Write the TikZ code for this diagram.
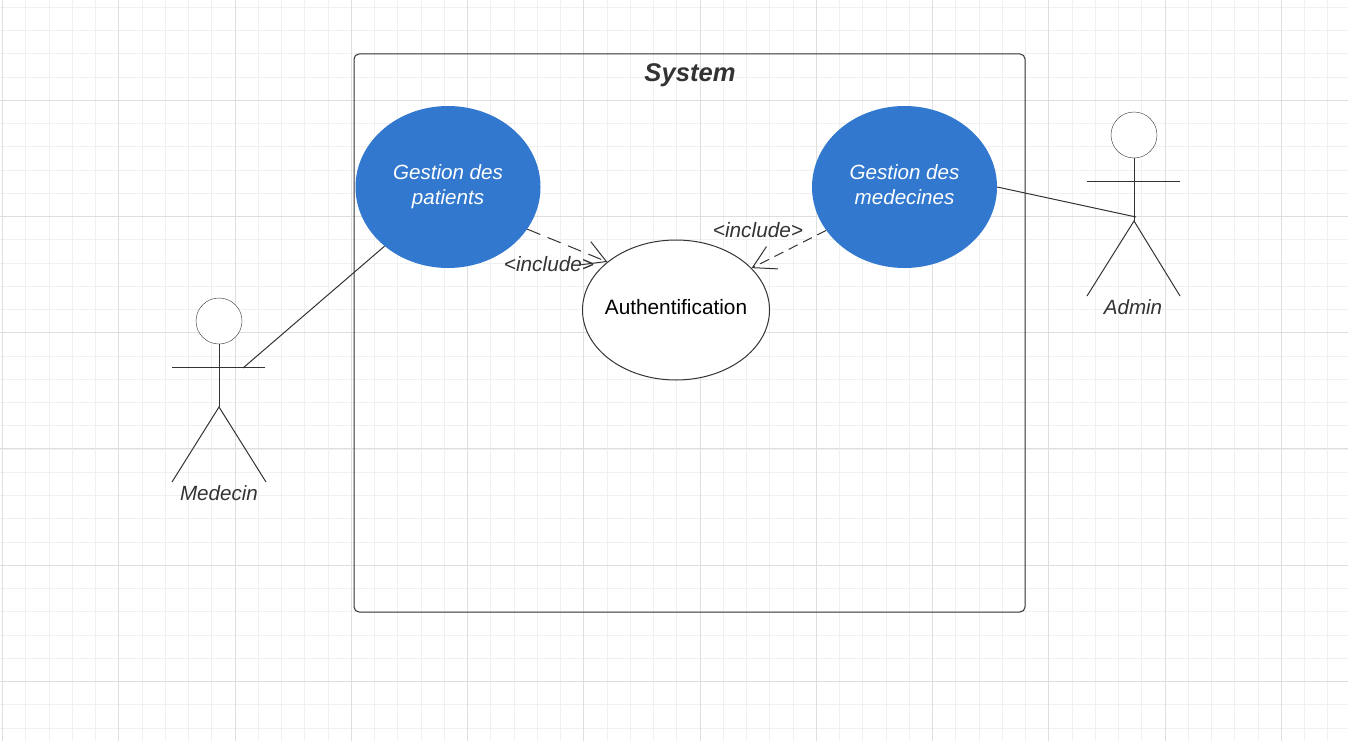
\documentclass[tikz,border=0pt]{standalone}
\usepackage{fontspec}
\setmainfont{Liberation Sans}
\usetikzlibrary{shapes.geometric,arrows.meta}
\definecolor{usecaseblue}{HTML}{3178CE}
\definecolor{inkgray}{HTML}{333333}
\tikzset{
    minorline/.style={draw=black!6, line width=1pt},
    majorline/.style={draw=black!13, line width=1pt},
    usecase/.style={ellipse, draw=none, fill=usecaseblue, text=white, minimum width=185pt, minimum height=162pt, inner sep=0pt, align=center, text depth=5.5pt, font=\fontsize{20.6}{25}\selectfont\itshape},
    actorhead/.style={circle, draw=inkgray, fill=white, minimum size=46pt, inner sep=0pt},
    stick/.style={draw=inkgray, line width=1pt},
    actorlabel/.style={text=inkgray, font=\fontsize{20.6}{25}\selectfont\itshape},
    includeline/.style={draw=inkgray, line width=1pt, dash pattern=on 14pt off 8pt, -{Straight Barb[length=22pt, width=25pt, line width=1pt]}},
    includelabel/.style={text=inkgray, inner sep=0pt, font=\fontsize{20.8}{25}\selectfont\itshape}
}
\begin{document}
\begin{tikzpicture}[x=1pt, y=-1pt]
    \useasboundingbox (0,0) rectangle (1348,741);

    % Grid
    \foreach \i in {0,...,57} {
        \draw[minorline] ({2.5+23.25*\i},0) -- ({2.5+23.25*\i},741);
    }
    \foreach \i in {0,...,31} {
        \draw[minorline] (0,{7.3+23.25*\i}) -- (1348,{7.3+23.25*\i});
    }
    \foreach \i in {0,...,11} {
        \draw[majorline] ({2.5+116.25*\i},0) -- ({2.5+116.25*\i},741);
    }
    \foreach \i in {0,...,5} {
        \draw[majorline] (0,{100.3+116.2*\i}) -- (1348,{100.3+116.2*\i});
    }

    % System box
    \draw[draw=inkgray, line width=1pt, rounded corners=5pt] (354,54) rectangle (1025,612);
    \node (systemtitle) at (690,75) [text=inkgray, font=\fontsize{25.6}{30}\selectfont\bfseries\itshape] {System};

    % Use cases
    \node[usecase] (patients) at (448,187) {Gestion des\\patients};
    \node[usecase] (medecines) at (904.5,187) {Gestion des\\medecines};
    \node[ellipse, draw=inkgray, line width=1pt, fill=white, minimum width=187pt, minimum height=140pt, inner xsep=-6pt, inner ysep=0pt, text depth=6pt, font=\fontsize{20.8}{25}\selectfont] (auth) at (676,310) {Authentification};

    % Medecin
    \node[actorhead] (medecinhead) at (219,321) {};
    \coordinate (medecinhip) at (219,407);
    \draw[stick] (medecinhead) -- (medecinhip);
    \draw[stick] (172,367) -- (265,367);
    \draw[stick] (172,482) -- (medecinhip) -- (266,482);
    \coordinate (medecinhand) at (243,368);
    \node[actorlabel] (medecinlabel) at (219,493) {Medecin};

    % Admin
    \node[actorhead] (adminhead) at (1134,135) {};
    \coordinate (adminhip) at (1134,221);
    \draw[stick] (adminhead) -- (adminhip);
    \draw[stick] (1087,181) -- (1180,181);
    \draw[stick] (1087,296) -- (adminhip) -- (1180,296);
    \coordinate (adminhand) at (1136,217);
    \node[actorlabel] (adminlabel) at (1133,307) {Admin};

    % Associations
    \draw[stick] (medecinhand) -- (patients.223.5);
    \draw[stick] (medecines.east) -- (adminhand);

    % Includes
    \draw[includeline] (patients.332) -- (auth.145);
    \draw[includeline, dash pattern=on 10pt off 6pt] (medecines.209) -- (auth.29);
    \node[includelabel] (includeleft) at (549,264) {<include>};
    \node[includelabel] (includeright) at (758,230) {<include>};

\end{tikzpicture}
\end{document}
